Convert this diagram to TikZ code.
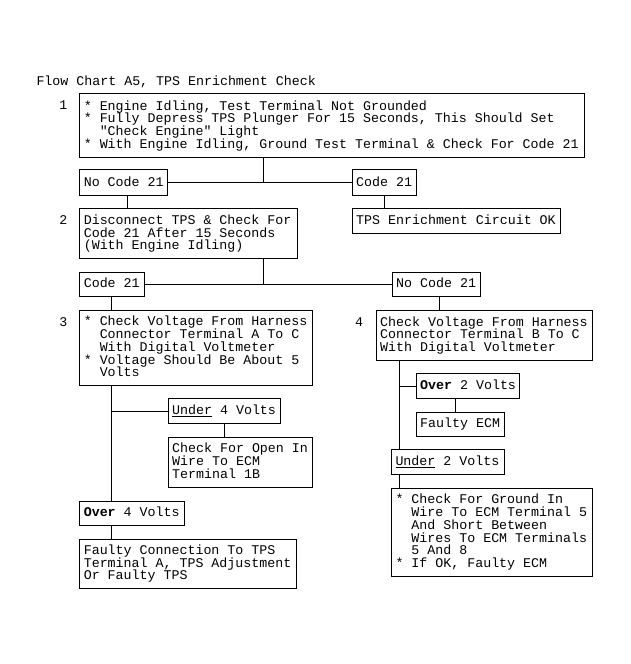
\documentclass[tikz,border=0pt]{standalone}
\usepackage{fontspec}
\usepackage{tikz}
\usetikzlibrary{shapes,arrows}
\setmonofont{Liberation Mono}
\newcommand{\chartfont}{\ttfamily\fontsize{13.3}{12.7}\selectfont}
\newcommand{\itm}{{*}\ }
\newcommand{\itmpad}{\phantom{**}}
\newcommand{\boxtext}[1]{\spaceskip=0pt\xspaceskip=0pt%
    \vbox{\baselineskip=12.7pt\lineskiplimit=-\maxdimen\let\\\cr
    \halign{\rule[-2.9pt]{0pt}{10.5pt}##\hfil\cr#1\crcr}}}
\tikzstyle{chartbox} = [draw=black, rectangle, anchor=north west, inner xsep=4pt, inner ysep=0pt, align=left]
\tikzstyle{numlabel} = [inner sep=0pt]
\frenchspacing

\begin{document}
\begin{tikzpicture}[x=1pt, y=-1pt, line width=1pt, font=\chartfont]
\useasboundingbox (0,0) rectangle (630,664);
\node [anchor=base west, inner sep=0pt] (title) at (36,85.7) {Flow Chart A5, TPS Enrichment Check};

% step 1
\node [numlabel] (n1) at (63.3,105) {1};
\node [chartbox, text width=496.7pt, minimum height=64pt] (step1) at (79.3,93.3) {\boxtext{%
    \itm Engine Idling, Test Terminal Not Grounded\\
    \itm Fully Depress TPS Plunger For 15 Seconds, This Should Set\\
    \itmpad "Check Engine" Light\\
    \itm With Engine Idling, Ground Test Terminal \& Check For Code 21}};
\node [chartbox, text width=80pt, minimum height=25.7pt] (nocodeA) at (79.3,169.3) {\boxtext{No Code 21}};
\node [chartbox, text width=56.3pt, minimum height=25.7pt] (codeA) at (351.7,169.3) {\boxtext{Code 21}};
\node [chartbox, text width=200.3pt, minimum height=25pt] (tpsok) at (351.7,208.3) {\boxtext{TPS Enrichment Circuit OK}};

% step 2
\node [numlabel] (n2) at (63.3,220) {2};
\node [chartbox, text width=209.4pt, minimum height=50pt] (step2) at (79.3,208.3) {\boxtext{%
    Disconnect TPS \& Check For\\
    Code 21 After 15 Seconds\\
    (With Engine Idling)}};
\node [chartbox, text width=56.7pt, minimum height=24.3pt] (codeB) at (79.3,271.7) {\boxtext{Code 21}};
\node [chartbox, text width=80.3pt, minimum height=24.3pt] (nocodeB) at (391.7,271.7) {\boxtext{No Code 21}};

% step 3
\node [numlabel] (n3) at (63.3,321.7) {3};
\node [chartbox, text width=225pt, minimum height=75pt] (step3) at (79.3,310) {\boxtext{%
    \itm Check Voltage From Harness\\
    \itmpad Connector Terminal A To C\\
    \itmpad With Digital Voltmeter\\
    \itm Voltage Should Be About 5\\
    \itmpad Volts}};
\node [chartbox, text width=104.3pt, minimum height=25pt] (under4) at (167.7,398.3) {\boxtext{\underline{Under} 4 Volts}};
\node [chartbox, text width=136pt, minimum height=50pt] (openwire) at (167.7,436.7) {\boxtext{%
    Check For Open In\\
    Wire To ECM\\
    Terminal 1B}};
\node [chartbox, text width=96.7pt, minimum height=24.3pt] (over4) at (79.3,500.7) {\boxtext{\textbf{Over} 4 Volts}};
\node [chartbox, text width=208.4pt, minimum height=48.7pt] (faultyconn) at (79.3,539) {\boxtext{%
    Faulty Connection To TPS\\
    Terminal A, TPS Adjustment\\
    Or Faulty TPS}};

% step 4
\node [numlabel] (n4) at (359,321.7) {4};
\node [chartbox, text width=208pt, minimum height=50pt] (step4) at (375.7,310) {\boxtext{%
    Check Voltage From Harness\\
    Connector Terminal B To C\\
    With Digital Voltmeter}};
\node [chartbox, text width=95.6pt, minimum height=25pt] (over2) at (415.7,373.3) {\boxtext{\textbf{Over} 2 Volts}};
\node [chartbox, text width=80.3pt, minimum height=24.3pt] (faultyecm) at (415.7,411.7) {\boxtext{Faulty ECM}};
\node [chartbox, text width=105pt, minimum height=25pt] (under2) at (391,449.3) {\boxtext{\underline{Under} 2 Volts}};
\node [chartbox, text width=192.7pt, minimum height=88.3pt] (step5) at (391,487.7) {\boxtext{%
    \itm Check For Ground In\\
    \itmpad Wire To ECM Terminal 5\\
    \itmpad And Short Between\\
    \itmpad Wires To ECM Terminals\\
    \itmpad 5 And 8\\
    \itm If OK, Faulty ECM}};

% connectors
\coordinate (j1) at (263.3,182.3);
\coordinate (j2) at (263.3,284);
\coordinate (d2) at (127.3,0);
\coordinate (d4) at (439.3,0);
\coordinate (d5) at (455.7,0);
\coordinate (t3) at (111.7,0);
\coordinate (t4) at (399.3,0);
\draw (step1.south -| j1) -- (j1);
\draw (nocodeA.east) -- (codeA.west);
\draw (nocodeA.south -| d2) -- (step2.north -| d2);
\draw (codeA.south) -- (codeA.south |- tpsok.north);
\draw (step2.south -| j2) -- (j2);
\draw (codeB.east) -- (nocodeB.west);
\draw (codeB.south -| t3) -- (step3.north -| t3);
\draw (nocodeB.south -| d4) -- (step4.north -| d4);
\draw (step3.south -| t3) -- (over4.north -| t3);
\draw (under4.west -| t3) -- (under4.west);
\draw (under4.south) -- (under4.south |- openwire.north);
\draw (over4.south -| t3) -- (faultyconn.north -| t3);
\draw (step4.south -| t4) -- (under2.north -| t4);
\draw (over2.west -| t4) -- (over2.west);
\draw (over2.south -| d5) -- (faultyecm.north -| d5);
\draw (under2.south -| t4) -- (step5.north -| t4);
\end{tikzpicture}
\end{document}
